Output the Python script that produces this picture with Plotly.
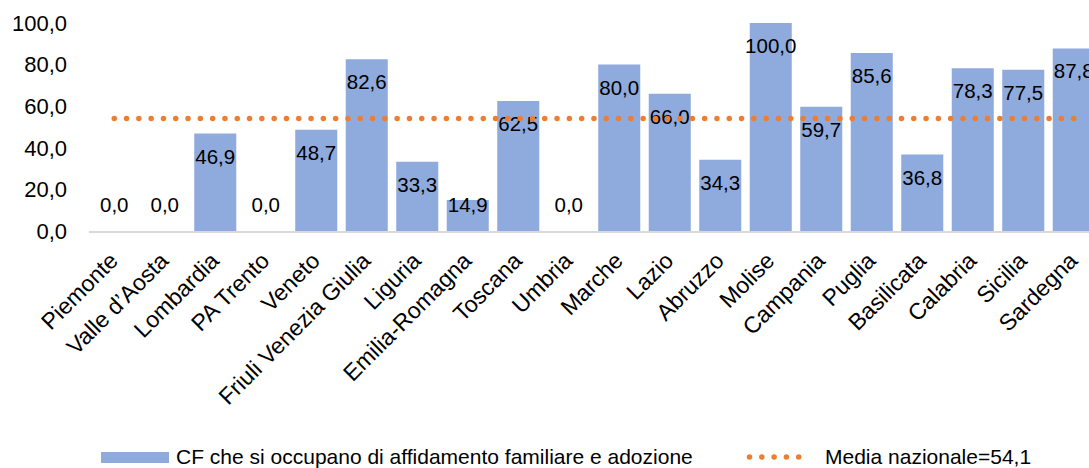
import plotly.graph_objects as go

# Regions and share of family counselling centres (CF) handling foster care and adoption
regioni = [
    "Piemonte", "Valle d\u2019Aosta", "Lombardia", "PA Trento", "Veneto",
    "Friuli Venezia Giulia", "Liguria", "Emilia-Romagna", "Toscana", "Umbria",
    "Marche", "Lazio", "Abruzzo", "Molise", "Campania", "Puglia", "Basilicata",
    "Calabria", "Sicilia", "Sardegna",
]
valori = [0.0, 0.0, 46.9, 0.0, 48.7, 82.6, 33.3, 14.9, 62.5, 0.0,
          80.0, 66.0, 34.3, 100.0, 59.7, 85.6, 36.8, 78.3, 77.5, 87.8]
media_nazionale = 54.1
y_ticks = [0, 20, 40, 60, 80, 100]

nome_barre = "CF che si occupano di affidamento familiare e adozione"
nome_media = "Media nazionale=54,1"

BLU = "#8FAADC"
ARANCIO = "#ED7D31"
FONT = "Liberation Sans, Arial, sans-serif"

# plot geometry in pixels
W, H = 1089, 468
L, T, PLOT_W, PLOT_H = 89, 23, 1000, 208
B = H - T - PLOT_H


def px_x(p):
    return (p - L) / PLOT_W


def px_y(p):
    return (T + PLOT_H - p) / PLOT_H


def fmt(v):
    return f"{v:.1f}".replace(".", ",")


# labels sit a fixed distance under the bar top, never lower than the zero-bar label
pos_etichette = [max(v - 12.0, 11.5) for v in valori]

fig = go.Figure()
fig.add_trace(go.Bar(
    x=regioni, y=valori, name=nome_barre,
    marker=dict(color=BLU, line=dict(width=0)),
    showlegend=False,
))
fig.add_trace(go.Scatter(
    x=regioni, y=pos_etichette, mode="text",
    text=[fmt(v) for v in valori],
    textposition="middle center",
    textfont=dict(family=FONT, size=20.5, color="#000000"),
    cliponaxis=True, showlegend=False, hoverinfo="skip",
))
fig.add_trace(go.Scatter(
    x=regioni, y=[media_nazionale] * len(regioni), name=nome_media,
    mode="lines", line=dict(color=ARANCIO, width=5.5, dash="0px,12.3px"),
    showlegend=False,
))

# legend drawn by hand below the category labels
fig.add_shape(type="rect", xref="paper", yref="paper",
              x0=px_x(101), x1=px_x(169), y0=px_y(463), y1=px_y(452),
              fillcolor=BLU, line=dict(width=0))
fig.add_shape(type="line", xref="paper", yref="paper",
              x0=px_x(749.5), x1=px_x(811), y0=px_y(457), y1=px_y(457),
              line=dict(color=ARANCIO, width=5.5, dash="0px,12.3px"))
fig.add_annotation(text=nome_barre, xref="paper", yref="paper",
                   x=px_x(175), y=px_y(456.5), xanchor="left", yanchor="middle",
                   borderpad=0, showarrow=False,
                   font=dict(family=FONT, size=21, color="#000000"))
fig.add_annotation(text=nome_media, xref="paper", yref="paper",
                   x=px_x(824), y=px_y(456.5), xanchor="left", yanchor="middle",
                   borderpad=0, showarrow=False,
                   font=dict(family=FONT, size=21, color="#000000"))

fig.update_layout(
    width=W, height=H,
    margin=dict(l=L, r=W - L - PLOT_W, t=T, b=B, pad=0),
    paper_bgcolor="#FFFFFF", plot_bgcolor="#FFFFFF",
    separators=",.",
    bargap=0.168,
    font=dict(family=FONT, size=21, color="#000000"),
    showlegend=False,
)
fig.update_xaxes(
    type="category", range=[-0.5, 19.302], tickangle=-45,
    showline=True, linecolor="#D9D9D9", linewidth=2,
    showgrid=False, ticks="", zeroline=False,
    tickfont=dict(family=FONT, size=23, color="#000000"),
    ticklabelstandoff=5, ticklabelshift=-3,
)
fig.update_yaxes(
    range=[0, 100], tickvals=y_ticks, tickformat=".1f",
    showgrid=False, zeroline=False, showline=False, ticks="",
    tickfont=dict(family=FONT, size=22, color="#000000"),
    ticklabelstandoff=21,
)

round_caps = (
    "var s=document.createElement('style');"
    "s.textContent='.scatterlayer .js-line, .shapelayer path{stroke-linecap:round;}';"
    "document.head.appendChild(s);"
)
fig.write_html("out.html", post_script=round_caps)
